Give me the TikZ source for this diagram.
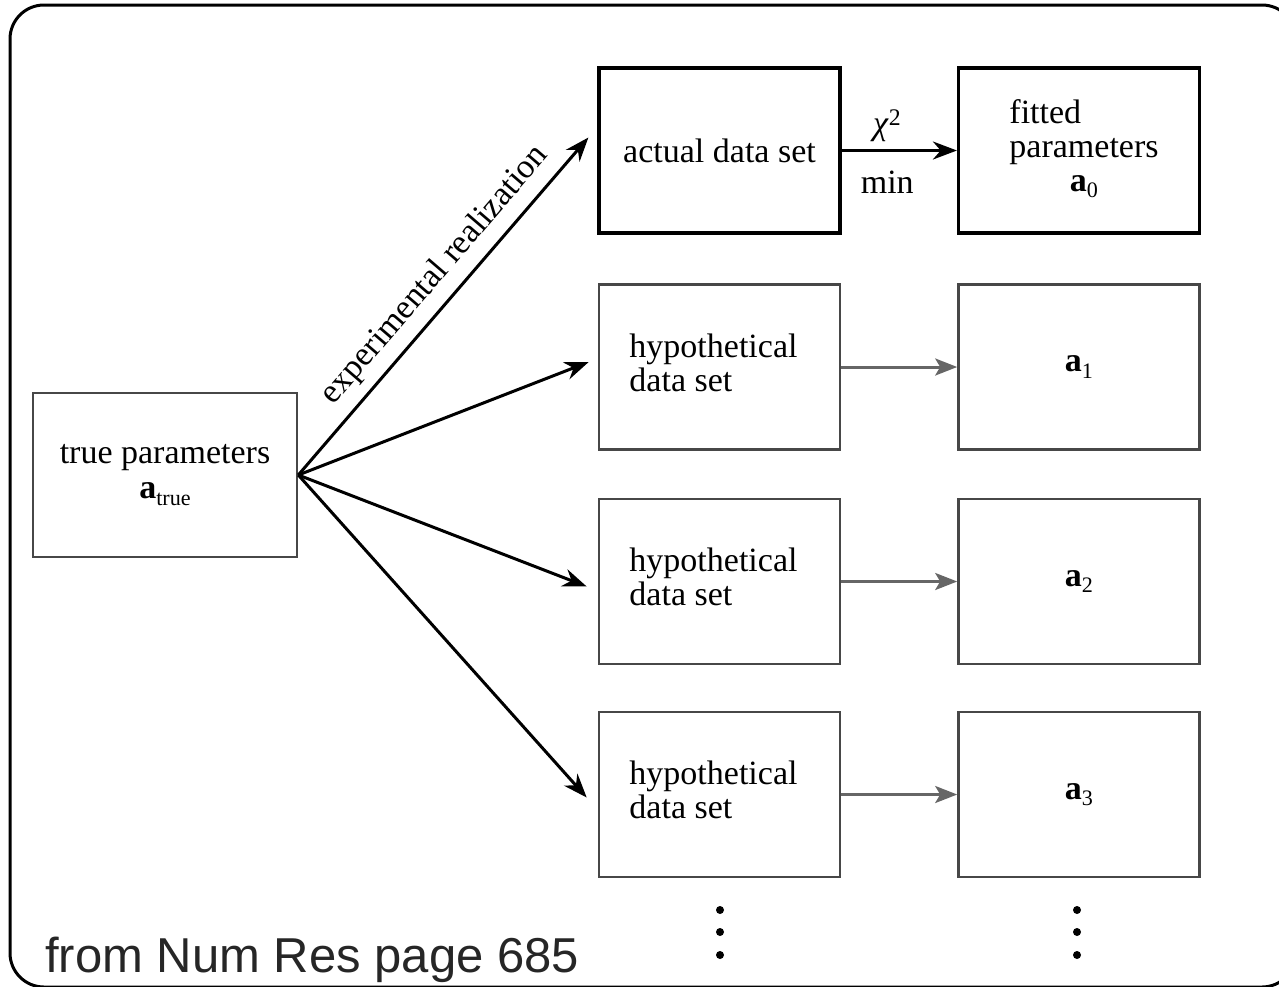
\documentclass[tikz,border=0pt]{standalone}
\usepackage{fontspec}
\setmainfont{Liberation Serif}
\newfontfamily\capfont{Liberation Sans}
\usetikzlibrary{arrows.meta,calc}
\newcommand\mysub[1]{\raisebox{-0.4ex}{\scalebox{0.65}{#1}}}
\begin{document}
\begin{tikzpicture}[x=1pt,y=-1pt,
  txt/.style={font=\fontsize{34}{35}\selectfont, text=black},
  blackbox/.style={draw=black, line width=3.2pt, minimum width=241pt, minimum height=165pt, inner sep=0pt, txt},
  graybox/.style={draw=black!72, line width=2.6pt, minimum width=241pt, minimum height=165pt, inner sep=0pt, txt},
  bigarrow/.style={draw=black, line width=3pt, -{Stealth[length=24pt,width=18pt]}},
  grayarrow/.style={draw=black!60, line width=3pt, -{Stealth[length=22pt,width=17pt,inset=5pt]}},
  dotnode/.style={circle, fill=black, inner sep=0pt, minimum size=8pt}
]
\useasboundingbox (0,0) rectangle (1279,986);
\draw[line width=3pt, rounded corners=34pt] (10,5) rectangle (1296,987);

\node[graybox, minimum width=264pt, minimum height=164pt, align=center] (tp) at (165,475)
  {true parameters\\[0pt]\textbf{a}\mysub{true}};
\node[blackbox] (ads) at (719.5,150.5) {actual data set};
\node[blackbox] (fp) at (1079,150.5)
  {\hspace*{10pt}\begin{tabular}{@{}l@{}}fitted\\[-1pt]parameters\\[-1pt]\multicolumn{1}{@{}c@{}}{\textbf{a}\mysub{0}}\end{tabular}};
\node[graybox] (h1) at (719.5,367) {\begin{tabular}{@{}l@{}}hypothetical\\[-1pt]data set\end{tabular}\hspace*{12pt}};
\node[graybox] (h2) at (719.5,581.5) {\begin{tabular}{@{}l@{}}hypothetical\\[-1pt]data set\end{tabular}\hspace*{12pt}};
\node[graybox] (h3) at (719.5,794.5) {\begin{tabular}{@{}l@{}}hypothetical\\[-1pt]data set\end{tabular}\hspace*{12pt}};
\node[graybox] (a1) at (1079,367) {\textbf{a}\mysub{1}};
\node[graybox] (a2) at (1079,581.5) {\textbf{a}\mysub{2}};
\node[graybox] (a3) at (1079,794.5) {\textbf{a}\mysub{3}};

\coordinate (e0) at ($(ads.west)+(-9,-13)$);
\coordinate (e1) at ($(h1.west)+(-9,-5)$);
\coordinate (e2) at ($(h2.west)+(-11,5)$);
\coordinate (e3) at ($(h3.west)+(-11,3)$);

\draw[bigarrow] (tp.east) -- node[pos=0.54, above=6pt, sloped, txt] {experimental realization} (e0);
\draw[bigarrow] (tp.east) -- (e1);
\draw[bigarrow] (tp.east) -- (e2);
\draw[bigarrow] (tp.east) -- (e3);

\draw[bigarrow] (ads.east) -- node[above=4pt, xshift=-12pt, txt] {\textit{χ}\textsuperscript{2}} node[below=16pt, xshift=-12pt, txt] {min} (fp.west);
\draw[grayarrow] (h1.east) -- (a1.west);
\draw[grayarrow] (h2.east) -- (a2.west);
\draw[grayarrow] (h3.east) -- (a3.west);

\node[dotnode] (d1) at (720,910) {};
\node[dotnode] (d2) at (720,932) {};
\node[dotnode] (d3) at (720,955) {};
\node[dotnode] (d4) at (1077,910) {};
\node[dotnode] (d5) at (1077,932) {};
\node[dotnode] (d6) at (1077,955) {};

\node[anchor=base west, inner sep=0pt, font=\capfont\fontsize{49}{49}\selectfont, text=black!85] (src) at (45,972) {from Num Res page 685};
\end{tikzpicture}
\end{document}
